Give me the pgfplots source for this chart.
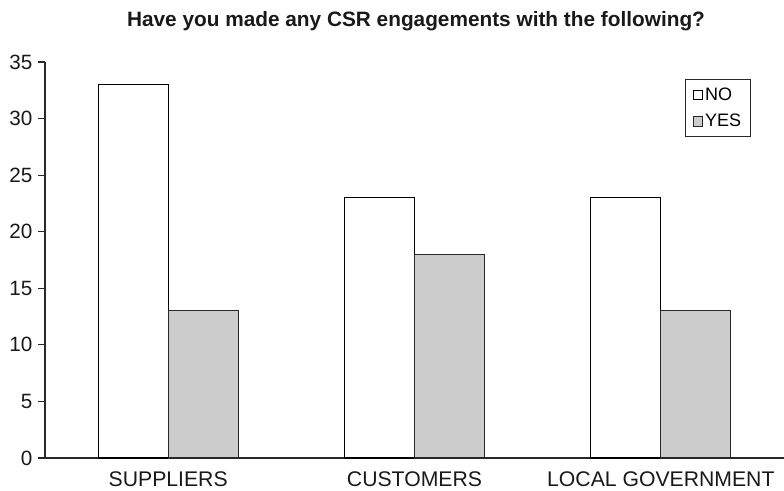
\documentclass[border=0pt]{standalone}
\usepackage{pgfplots}
\pgfplotsset{compat=1.18}
\usepackage{fontspec}
\setmainfont{Liberation Sans}
\definecolor{barg}{RGB}{204,204,204}
\definecolor{axc}{RGB}{40,40,40}
\begin{document}
\begin{tikzpicture}
\path[use as bounding box] (-33.75pt,-24pt) rectangle (554.25pt,343.5pt);
\begin{axis}[
  scale only axis,
  width=554.25pt, height=297pt,
  xmin=-0.5, xmax=2.5, ymin=0, ymax=35,
  ybar=0pt, bar width=52.5pt,
  axis x line*=bottom, axis y line*=left,
  axis line style={axc, line width=0.8pt},
  xtick={0,1,2},
  xticklabels={SUPPLIERS,CUSTOMERS,LOCAL GOVERNMENT},
  x tick style={draw=none},
  extra x ticks={-0.5,0.5,1.5},
  extra x tick labels={},
  extra x tick style={tick style={axc, line width=0.8pt, draw=axc}, major tick length=5pt, tick align=outside},
  ytick={0,5,...,35},
  y tick style={axc, line width=0.8pt},
  major tick length=5pt,
  tick align=outside,
  /pgf/number format/assume math mode=true,
  xticklabel style={font=\fontsize{15.9}{18}\selectfont, text=black!90, yshift=-2pt},
  yticklabel style={font=\fontsize{15.5}{18}\selectfont, text=black!90, xshift=-1pt},
  legend style={at={(rel axis cs:0.9553,0.957)}, anchor=north east,
    draw=axc, line width=0.8pt, font=\fontsize{13.5}{16}\selectfont,
    row sep=5pt, inner xsep=5pt, inner ysep=4pt, legend cell align=left},
  legend image code/.code={\draw[#1, line width=0.6pt] (0pt,-3.4pt) rectangle (6.8pt,3.4pt);},
  clip=false,
]
\addplot[draw=black, fill=white, line width=0.8pt] coordinates {(0,33) (1,23) (2,23)};
\addplot[draw=axc, fill=barg, line width=0.8pt] coordinates {(0,13) (1,18) (2,13)};
\legend{NO,YES}
\end{axis}
\node[font=\fontsize{15.6}{18}\selectfont\bfseries, text=black!90, anchor=base] at (278.25pt,323.25pt) {Have you made any CSR engagements with the following?};
\end{tikzpicture}
\end{document}
